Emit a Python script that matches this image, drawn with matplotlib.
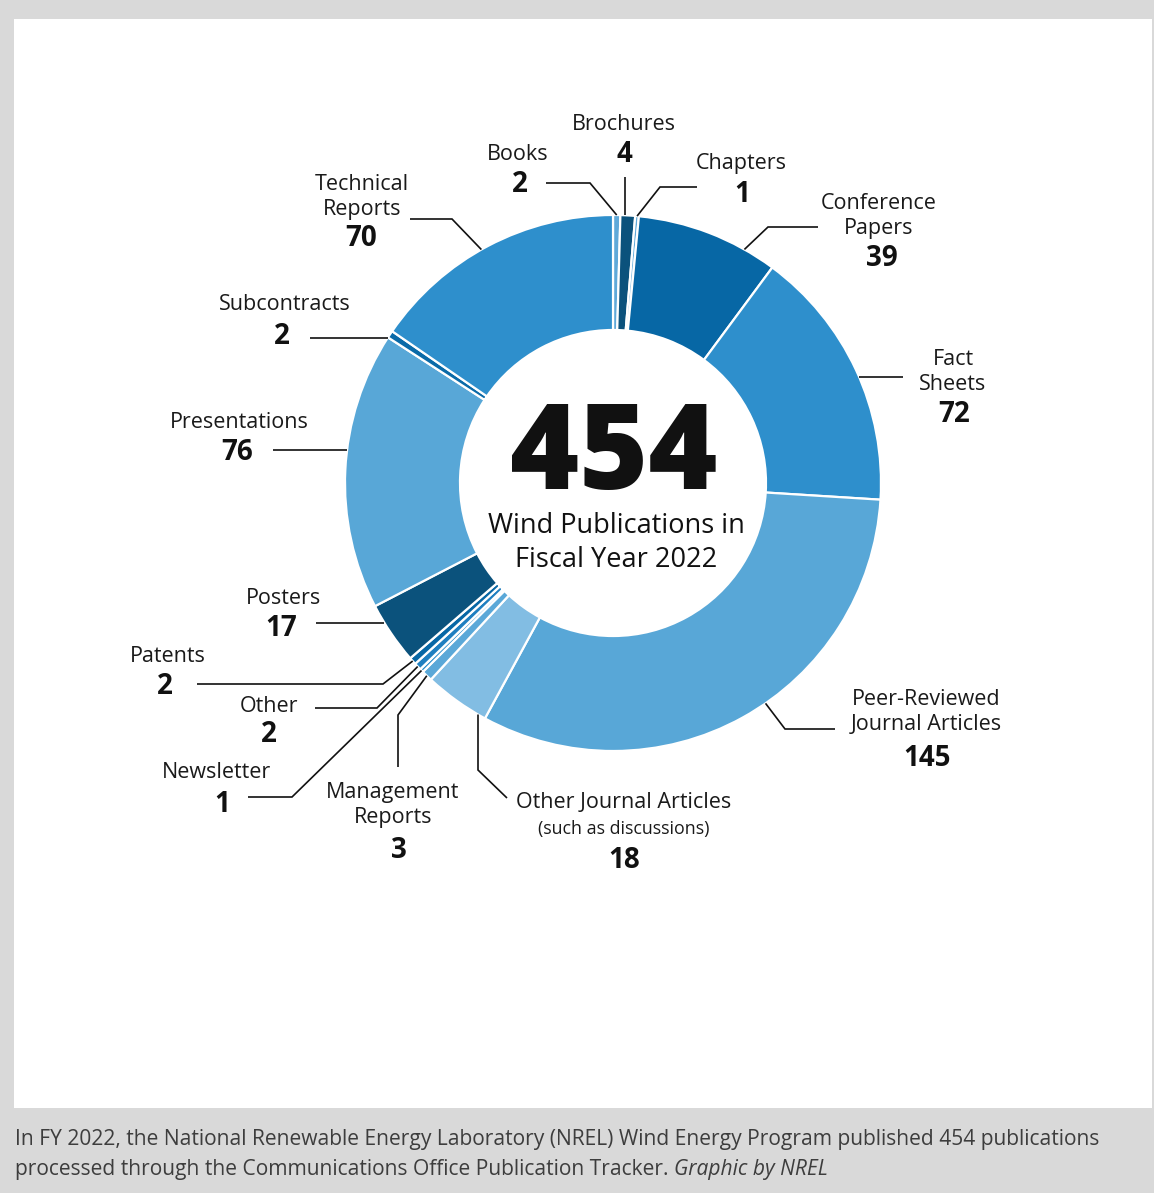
import numpy as np
import matplotlib
matplotlib.use("Agg")
import matplotlib.pyplot as plt
from matplotlib.patches import Rectangle

plt.rcParams["font.family"] = ["Open Sans", "DejaVu Sans"]

# Publication counts, clockwise from 12 o'clock
categories = ["Books", "Brochures", "Chapters", "Conference Papers", "Fact Sheets",
              "Peer-Reviewed Journal Articles", "Other Journal Articles",
              "Management Reports", "Newsletter", "Other", "Patents", "Posters",
              "Presentations", "Subcontracts", "Technical Reports"]
counts = [2, 4, 1, 39, 72, 145, 18, 3, 1, 2, 2, 17, 76, 2, 70]
label_text = ["Books", "Brochures", "Chapters", "Conference\nPapers", "Fact\nSheets",
              "Peer-Reviewed\nJournal Articles", "Other Journal Articles",
              "Management\nReports", "Newsletter", "Other", "Patents", "Posters",
              "Presentations", "Subcontracts", "Technical\nReports"]
colors = ["#5fa9d9", "#0b527c", "#5fa9d9", "#0767a5", "#2e8fcc",
          "#58a7d7", "#82bde3", "#5aa8d8", "#2e8fcc", "#1f7fc0", "#0767a5",
          "#0b527c", "#58a7d7", "#0a6aa8", "#2e8fcc"]
total = sum(counts)
center_title = "Wind Publications in\nFiscal Year 2022"
caption_1 = ("In FY 2022, the National Renewable Energy Laboratory (NREL) Wind Energy "
             "Program published 454 publications")
caption_2 = "processed through the Communications Office Publication Tracker."
caption_credit = "Graphic by NREL"

W, H = 1154, 1193
fig = plt.figure(figsize=(W / 100, H / 100), dpi=100, facecolor="#d9d9d9")
ax = fig.add_axes([0, 0, 1, 1])
ax.set_xlim(0, W)
ax.set_ylim(0, H)
ax.set_aspect("equal")
ax.axis("off")


def Y(y):
    """Convert a top-down pixel row to the axes' upward y value."""
    return H - y


# white panel
ax.add_patch(Rectangle((14, Y(1108)), 1152 - 14, 1108 - 19, facecolor="white",
                       edgecolor="none", zorder=0))

CX, CY, R, RIN = 613, 483, 268, 153
ax.pie(counts, colors=colors, startangle=90, counterclock=False,
       center=(CX, Y(CY)), radius=R, frame=True,
       wedgeprops=dict(width=R - RIN, edgecolor="white", linewidth=1.6))
ax.set_xlim(0, W)
ax.set_ylim(0, H)
ax.axis("off")

cum = np.concatenate([[0], np.cumsum(counts)])


def anchor_at(i, frac=0.5):
    pos = cum[i] + frac * counts[i]
    theta = np.deg2rad(90 - 360 * pos / total)
    return CX + R * np.cos(theta), CY - R * np.sin(theta)


def circle_x(y, side):
    return CX + side * np.sqrt(R ** 2 - (y - CY) ** 2)


def circle_y(x, side):
    return CY + side * np.sqrt(R ** 2 - (x - CX) ** 2)


# label layout: name centre, number centre, leader path (image pixels)
layout = {
    "Books": dict(name=(518, 155), num=(520, 185), path=[(546, 183), (590, 183)], end=("mid", 0.5)),
    "Brochures": dict(name=(624, 124), num=(624, 155), path=[(625, 177)], end=("v", -1)),
    "Chapters": dict(name=(741, 164), num=(742, 194), path=[(697, 187), (660, 187)], end=("mid", 0.5)),
    "Conference Papers": dict(name=(879, 216), num=(882, 258), path=[(818, 227), (768, 227)], end=("mid", 0.77)),
    "Fact Sheets": dict(name=(953, 372), num=(954, 415), path=[(903, 377)], end=("h", 1)),
    "Peer-Reviewed Journal Articles": dict(name=(926, 712), num=(927, 759), path=[(835, 729), (785, 729)], end=("mid", 0.45)),
    "Other Journal Articles": dict(name=(624, 803), num=(624, 860), path=[(507, 798), (478, 770)], end=("v", 1)),
    "Management Reports": dict(name=(393, 805), num=(399, 851), path=[(398, 767), (398, 715)], end=("mid", 0.5)),
    "Newsletter": dict(name=(216, 773), num=(222, 804), path=[(248, 797), (292, 797)], end=("mid", 0.5)),
    "Other": dict(name=(269, 706), num=(269, 734), path=[(315, 708), (377, 708)], end=("mid", 0.5)),
    "Patents": dict(name=(168, 656), num=(165, 686), path=[(197, 684), (383, 684)], end=("mid", 0.5)),
    "Posters": dict(name=(283, 599), num=(281, 629), path=[(316, 623)], end=("h", -1)),
    "Presentations": dict(name=(239, 422), num=(237, 453), path=[(273, 450)], end=("h", -1)),
    "Subcontracts": dict(name=(285, 305), num=(282, 336), path=[(310, 338)], end=("h", -1)),
    "Technical Reports": dict(name=(362, 197), num=(361, 239), path=[(410, 219), (452, 219)], end=("mid", 0.47)),
}

NAME_FS = 15.5
NUM_FS = 20

for i, cat in enumerate(categories):
    spec = layout[cat]
    pts = list(spec["path"])
    kind, arg = spec["end"]
    if kind == "mid":
        pts.append(anchor_at(i, arg))
    elif kind == "h":
        y = pts[-1][1]
        pts.append((circle_x(y, arg), y))
    else:
        x = pts[-1][0]
        pts.append((x, circle_y(x, arg)))
    xs = [p[0] for p in pts]
    ys = [Y(p[1]) for p in pts]
    ax.plot(xs, ys, color="#111111", lw=1.2, solid_capstyle="butt",
            solid_joinstyle="miter", zorder=3)

    nx, ny = spec["name"]
    ax.text(nx, Y(ny), label_text[i], ha="center", va="center", fontsize=NAME_FS,
            color="#1a1a1a", linespacing=1.2, zorder=4)
    if cat == "Other Journal Articles":
        ax.text(nx, Y(829), "(such as discussions)", ha="center", va="center",
                fontsize=12.8, color="#1a1a1a", zorder=4)
    mx, my = spec["num"]
    ax.text(mx, Y(my), str(counts[i]), ha="center", va="center", fontsize=NUM_FS,
            fontweight="bold", color="#111111", zorder=4)

# centre total
ax.text(614, Y(458), str(total), ha="center", va="center", fontsize=85,
        fontweight="heavy", color="#111111")
ax.text(616, Y(543), center_title, ha="center", va="center", fontsize=19.5,
        color="#111111", linespacing=1.25)

# caption
CAP_FS = 15.1
ax.text(15, Y(1140), caption_1, ha="left", va="center", fontsize=CAP_FS, color="#3d3d3d")
t2 = ax.text(15, Y(1169), caption_2 + " ", ha="left", va="center", fontsize=CAP_FS,
             color="#3d3d3d")
fig.canvas.draw()
bb = t2.get_window_extent()
ax.text(bb.x1, Y(1169), caption_credit, ha="left", va="center", fontsize=CAP_FS,
        color="#3d3d3d", style="italic")

fig.savefig("out.png", dpi=100, facecolor=fig.get_facecolor())
